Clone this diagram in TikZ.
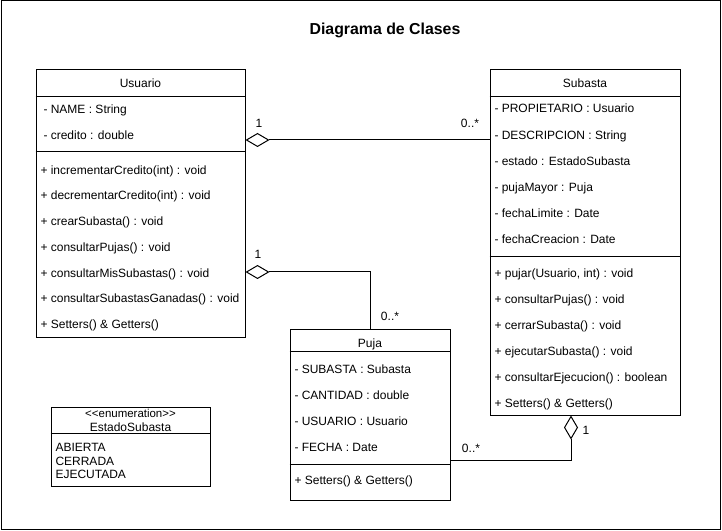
\documentclass[tikz,border=0pt]{standalone}
\usepackage{fontspec}
\setmainfont{Liberation Sans}
\usetikzlibrary{arrows.meta,fit}
\begin{document}
\begin{tikzpicture}[x=0.75pt,y=-0.75pt,line width=0.75pt,
  every node/.style={font=\fontsize{9pt}{10.5pt}\selectfont},
  cls/.style={draw,inner sep=0pt,fill=none},
  row/.style={anchor=west,inner sep=0pt,text height=6.6pt,text depth=1.9pt},
  hdr/.style={inner sep=0pt,text height=6.6pt,text depth=1.9pt},
  mult/.style={inner sep=0pt,text height=6.6pt,text depth=1.9pt},
  agg/.style={{Diamond[open,fill=white,length=18pt,width=10.5pt,line width=0.75pt]}-}]
\useasboundingbox (0,0) rectangle (722,531);
\draw (1,1) rectangle (720,529);
\node[inner sep=0pt,font=\bfseries\fontsize{11.9pt}{13pt}\selectfont] (title) at (385,30) {Diagrama de Clases};

% Usuario
\node[cls,fit={(36,70) (245,338)}] (usuario) {};
\draw (usuario.west |- 0,97) -- (usuario.east |- 0,97);
\draw (usuario.west |- 0,152) -- (usuario.east |- 0,152);
\node[hdr] (uh) at (140.5,84) {Usuario};
\node[row] (u1) at (43,110) {- NAME : String};
\node[row] (u2) at (43,136) {- credito : double};
\node[row] (u3) at (40,171) {+ incrementarCredito(int) : void};
\node[row] (u4) at (40,196) {+ decrementarCredito(int) : void};
\node[row] (u5) at (40,222) {+ crearSubasta() : void};
\node[row] (u6) at (40,248) {+ consultarPujas() : void};
\node[row] (u7) at (40,274) {+ consultarMisSubastas() : void};
\node[row] (u8) at (40,299) {+ consultarSubastasGanadas() : void};
\node[row] (u9) at (40,325) {+ Setters() \& Getters()};

% Subasta
\node[cls,fit={(490,70) (680,415)}] (subasta) {};
\draw (subasta.west |- 0,97) -- (subasta.east |- 0,97);
\draw (subasta.west |- 0,257) -- (subasta.east |- 0,257);
\node[hdr] (sh) at (585,84) {Subasta};
\node[row] (s1) at (494,109) {- PROPIETARIO : Usuario};
\node[row] (s2) at (494,136) {- DESCRIPCION : String};
\node[row] (s3) at (494,162) {- estado : EstadoSubasta};
\node[row] (s4) at (494,188) {- pujaMayor : Puja};
\node[row] (s5) at (494,214) {- fechaLimite : Date};
\node[row] (s6) at (494,240) {- fechaCreacion : Date};
\node[row] (s7) at (494,274) {+ pujar(Usuario, int) : void};
\node[row] (s8) at (494,300) {+ consultarPujas() : void};
\node[row] (s9) at (494,326) {+ cerrarSubasta() : void};
\node[row] (s10) at (494,352) {+ ejecutarSubasta() : void};
\node[row] (s11) at (494,378) {+ consultarEjecucion() : boolean};
\node[row] (s12) at (494,404) {+ Setters() \& Getters()};

% Puja
\node[cls,fit={(290,330) (450,500)}] (puja) {};
\draw (puja.west |- 0,352) -- (puja.east |- 0,352);
\draw (puja.west |- 0,464) -- (puja.east |- 0,464);
\node[hdr] (ph) at (370,344) {Puja};
\node[row] (p1) at (294,370) {- SUBASTA : Subasta};
\node[row] (p2) at (294,396) {- CANTIDAD : double};
\node[row] (p3) at (294,422) {- USUARIO : Usuario};
\node[row] (p4) at (294,448) {- FECHA : Date};
\node[row] (p5) at (294,481) {+ Setters() \& Getters()};

% Enumeration
\node[cls,fit={(51,407) (210,486)}] (estado) {};
\draw (estado.west |- 0,433) -- (estado.east |- 0,433);
\node[hdr,font=\fontsize{8.6pt}{9pt}\selectfont] (e0) at (130.5,414) {<{}<enumeration>{}>};
\node[hdr] (e1) at (130.5,428) {EstadoSubasta};
\node[row] (e2) at (55,448) {ABIERTA};
\node[row] (e3) at (55,462) {CERRADA};
\node[row] (e4) at (55,475) {EJECUTADA};

% Connectors
\draw[agg] (usuario.east |- 0,140) -- (subasta.west |- 0,140);
\node[mult] (m1) at (259,124) {1};
\node[mult] (m2) at (470,124) {0..*};

\draw[agg] (usuario.east |- 0,272) -| (puja.north);
\node[mult] (m3) at (258,255) {1};
\node[mult] (m4) at (390,317) {0..*};

\draw[agg] (subasta.south -| 571,0) |- (puja.east |- 0,460);
\node[mult] (m5) at (586,431) {1};
\node[mult] (m6) at (471,449) {0..*};
\end{tikzpicture}
\end{document}
